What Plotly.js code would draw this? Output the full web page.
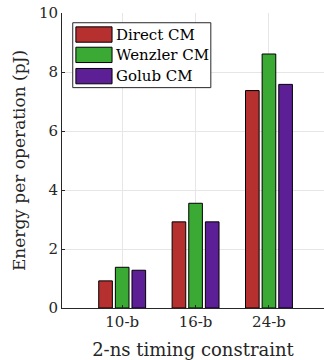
<!DOCTYPE html>
<html>
<head>
<meta charset="utf-8">
<script src="https://cdn.plot.ly/plotly-3.0.1.min.js"></script>
<style>html,body{margin:0;padding:0;background:#fff;}#chart{width:324px;height:360px;}</style>
</head>
<body>
<div id="chart"></div>
<script>
const categories = ['10-b', '16-b', '24-b'];
const seriesNames = ['Direct CM', 'Wenzler CM', 'Golub CM'];
const directCM = [0.92, 2.92, 7.37];
const wenzlerCM = [1.38, 3.55, 8.61];
const golubCM = [1.28, 2.92, 7.58];
const seriesColors = ['#b5302f', '#3aaa35', '#5d1f96'];
const yTicks = [0, 2, 4, 6, 8, 10];

const xPos = categories.map((c, i) => i + 1);
const allValues = [directCM, wenzlerCM, golubCM];

const traces = allValues.map((vals, k) => ({
  type: 'bar',
  x: xPos,
  y: vals,
  name: seriesNames[k],
  marker: {color: seriesColors[k], line: {color: '#000', width: 1}},
  showlegend: false,
  hoverinfo: 'skip'
}));

const font = 'DejaVu Serif, serif';
const shapes = [{
  type: 'rect', xref: 'paper', yref: 'paper',
  x0: 0.041, x1: 0.568, y0: 0.747, y1: 0.967,
  line: {color: '#262626', width: 1}, fillcolor: '#fff', layer: 'above'
}];
const annotations = [];
const rowCenters = [0.927, 0.858, 0.786];
seriesNames.forEach((n, k) => {
  shapes.push({
    type: 'rect', xref: 'paper', yref: 'paper',
    x0: 0.053, x1: 0.191, y0: rowCenters[k] - 0.026, y1: rowCenters[k] + 0.026,
    line: {color: '#000', width: 1}, fillcolor: seriesColors[k], layer: 'above'
  });
  annotations.push({
    xref: 'paper', yref: 'paper', x: 0.198, y: rowCenters[k],
    xanchor: 'left', yanchor: 'middle', text: n, showarrow: false,
    font: {family: font, size: 15, color: '#000'}
  });
});

const layout = {
  width: 324, height: 360,
  margin: {l: 62, r: 0, t: 13, b: 52},
  paper_bgcolor: '#fff', plot_bgcolor: '#fff',
  barmode: 'group', bargap: 0.32, bargroupgap: 0.18,
  xaxis: {
    range: [0.18, 3.75], tickvals: xPos, ticktext: categories,
    showgrid: true, gridcolor: '#e6e6e6', gridwidth: 1,
    showline: true, linecolor: '#262626', linewidth: 1,
    ticks: 'inside', ticklen: 3, tickcolor: '#262626',
    tickfont: {family: font, size: 15, color: '#262626'},
    title: {text: '2-ns timing constraint', font: {family: font, size: 18, color: '#262626'}, standoff: 14},
    zeroline: false, fixedrange: true
  },
  yaxis: {
    range: [0, 10], tickvals: yTicks, ticktext: yTicks.map(String),
    showgrid: true, gridcolor: '#e6e6e6', gridwidth: 1,
    showline: true, linecolor: '#262626', linewidth: 1,
    ticks: 'inside', ticklen: 3, tickcolor: '#262626',
    tickfont: {family: font, size: 15, color: '#262626'},
    title: {text: 'Energy per operation (pJ)', font: {family: font, size: 17, color: '#262626'}, standoff: 8},
    zeroline: false, fixedrange: true
  },
  shapes: shapes,
  annotations: annotations,
  showlegend: false
};

Plotly.newPlot('chart', traces, layout, {displayModeBar: false, staticPlot: true});
</script>
</body>
</html>
